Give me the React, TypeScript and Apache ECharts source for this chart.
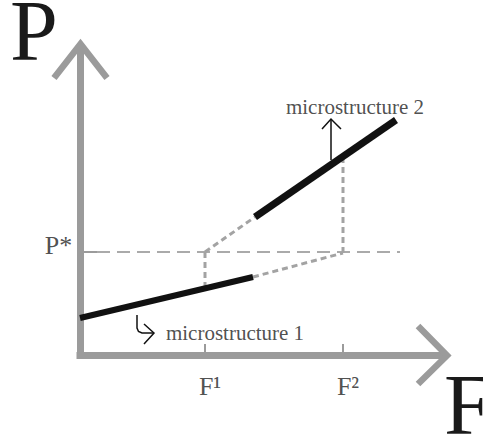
import React, { useEffect, useRef } from "react";
import * as echarts from "echarts";

// Key positions on the schematic axes (arbitrary data units)
const F1 = 12.5;
const F2 = 26.3;
const PSTAR = 10.3;

// Axes (drawn as lines) and their chevron arrowheads
const xAxisLine: number[][] = [[-0.35, -0.05], [36.7, -0.05]];
const xArrow: number[][] = [[33.8, 2.9], [36.7, -0.05], [33.8, -2.9]];
const yAxisLine: number[][] = [[0.05, -0.4], [0.05, 31.1]];
const yArrow: number[][] = [[-2.6, 27.7], [0.05, 31.1], [2.7, 27.7]];

// Ticks
const tickF1: number[][] = [[F1, 0], [F1, 1.1]];
const tickF2: number[][] = [[F2, 0], [F2, 1.1]];
const tickP: number[][] = [[0, PSTAR], [1.7, PSTAR]];

// Curves
const micro1: number[][] = [[0, 3.7], [17.3, 7.8]];
const micro2: number[][] = [[17.5, 13.8], [31.6, 23.5]];
const ext1: number[][] = [[17.3, 7.8], [26.3, 10.2]];
const ext2: number[][] = [[F1, PSTAR], [17.5, 13.8]];
const drop1: number[][] = [[F1, PSTAR], [F1, 6.66]];
const drop2: number[][] = [[F2, 10.2], [F2, 19.85]];
const pstarLine: number[][] = [[1.7, PSTAR], [32, PSTAR]];

// Annotation arrows
const arrow2Shaft: number[][] = [[25.1, 19.5], [25.1, 23.6]];
const arrow2Head: number[][] = [[24.2, 22.6], [25.1, 23.6], [26.1, 22.6]];
const arrow1Shaft: number[][] = [[5.7, 4.0], [5.7, 2.7], [5.85, 2.35], [6.2, 2.2], [7.4, 2.2]];
const arrow1Head: number[][] = [[6.4, 3.1], [7.4, 2.2], [6.4, 1.1]];

// Text labels: [x, y, text, fontSize]
const labels: [number, number, string, number][] = [
  [-2.15, 11.0, "P*", 26],
  [13.0, -3.1, "F¹", 26],
  [26.8, -3.1, "F²", 26],
  [27.5, 24.8, "microstructure 2", 21],
  [15.5, 2.2, "microstructure 1", 21],
];

const GRAY = "#9b9b9b";
const DOT = "#a3a3a3";
const FONT = "'Liberation Serif', 'DejaVu Serif', serif";

function lineSeries(data: number[][], color: string, width: number, type: any = "solid", cap = "butt", join = "miter") {
  return {
    type: "line",
    data,
    symbol: "none",
    silent: true,
    clip: false,
    lineStyle: { color, width, type, cap, join },
  };
}

export default function App() {
  const ref = useRef<HTMLDivElement>(null);
  useEffect(() => {
    document.body.style.margin = "0";
    const chart = echarts.init(ref.current!, undefined, { renderer: "svg" });
    const series: any[] = [
      lineSeries(pstarLine, "#aaaaaa", 2, [13, 7]),
      lineSeries(ext1, DOT, 3, [6, 4]),
      lineSeries(ext2, DOT, 3, [6, 4]),
      lineSeries(drop1, DOT, 3, [6, 4]),
      lineSeries(drop2, DOT, 3, [6, 4]),
      lineSeries(tickF1, GRAY, 2),
      lineSeries(tickF2, GRAY, 2),
      lineSeries(tickP, GRAY, 2),
      lineSeries(xAxisLine, GRAY, 7),
      lineSeries(yAxisLine, GRAY, 7),
      lineSeries(xArrow, GRAY, 6.5),
      lineSeries(yArrow, GRAY, 6.5),
      lineSeries(micro1, "#111111", 6),
      lineSeries(micro2, "#111111", 7),
      lineSeries(arrow2Shaft, "#111111", 1.5),
      lineSeries(arrow2Head, "#111111", 1.5),
      lineSeries(arrow1Shaft, "#111111", 1.5),
      lineSeries(arrow1Head, "#111111", 1.5),
      {
        type: "scatter",
        silent: true,
        symbolSize: 1,
        itemStyle: { color: "transparent" },
        data: labels.map((l) => ({
          value: [l[0], l[1]],
          label: {
            show: true,
            position: "inside",
            formatter: l[2],
            color: "#222222",
            fontFamily: FONT,
            fontSize: l[3],
            align: "center",
            verticalAlign: "middle",
          },
        })),
      },
    ];
    chart.setOption({
      animation: false,
      backgroundColor: "#ffffff",
      grid: { left: 0, right: 3, top: 35, bottom: 46 },
      xAxis: { type: "value", min: -8, max: 40, show: false },
      yAxis: { type: "value", min: -4, max: 32, show: false },
      graphic: [
        {
          type: "text",
          left: 10,
          top: -12,
          style: { text: "P", font: `86px ${FONT}`, fill: "#1a1a1a" },
        },
        {
          type: "text",
          left: 444,
          top: 362,
          style: { text: "F", font: `86px ${FONT}`, fill: "#1a1a1a" },
        },
      ],
      series,
    });
    return () => chart.dispose();
  }, []);
  return <div ref={ref} style={{ width: 483, height: 441 }} />;
}
